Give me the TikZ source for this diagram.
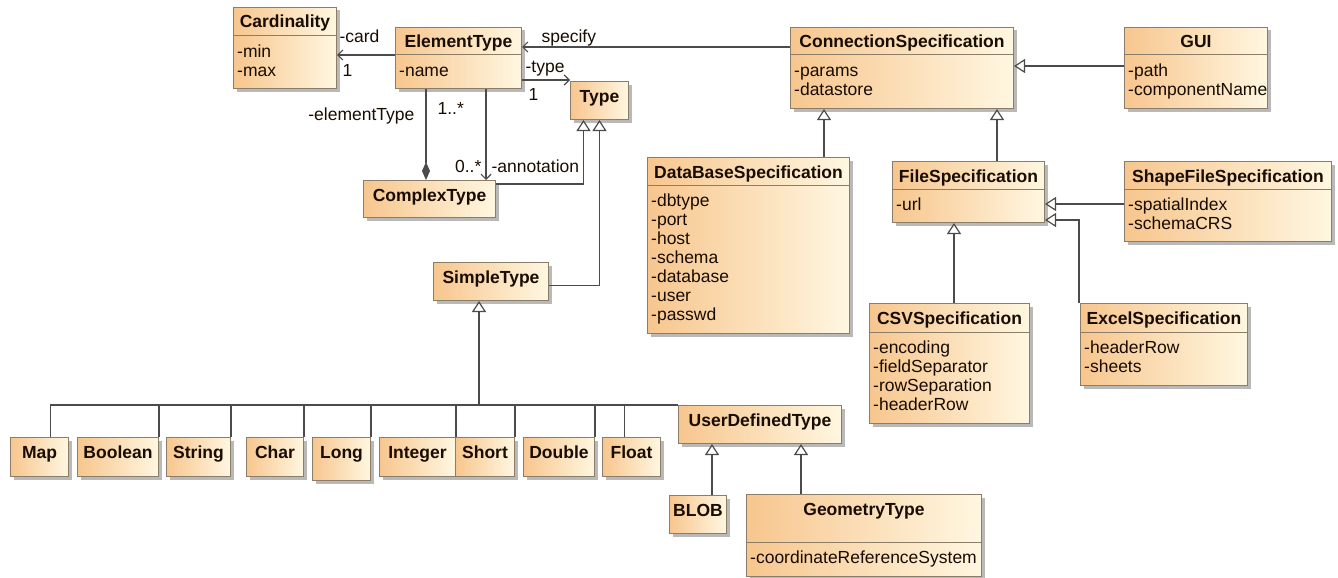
\documentclass[tikz,border=0pt]{standalone}
\usepackage{fontspec}
\setmainfont{Liberation Sans}
\usepackage{tikz}
\usetikzlibrary{arrows.meta,shadows}

\definecolor{boxdark}{RGB}{247,198,142}
\definecolor{boxlight}{RGB}{255,247,225}
\definecolor{boxline}{RGB}{140,125,105}
\definecolor{linkgray}{RGB}{75,75,75}
\definecolor{inktext}{RGB}{25,12,0}

\tikzset{
  cls/.style={draw=boxline, line width=1pt, left color=boxdark, right color=boxlight,
    drop shadow={shadow xshift=3pt, shadow yshift=-3pt, fill=black!55},
    anchor=north west, inner sep=0pt},
  ttl/.style={font=\fontsize{17.5}{19}\selectfont\bfseries, text=inktext, inner sep=0pt, anchor=base},
  attr/.style={font=\fontsize{17.5}{19}\selectfont, text=inktext, align=left, inner sep=0pt, anchor=north west},
  lbl/.style={font=\fontsize{17.5}{19}\selectfont, text=inktext, inner sep=0pt},
  divline/.style={draw=boxline, line width=1pt},
  link/.style={draw=linkgray, line width=1.2pt},
  gen/.style={link, -{Triangle[open, length=11pt, width=14pt, fill=white]}},
  nav/.style={link, -{Straight Barb[length=5pt, width=10pt]}},
  comp/.style={link, -{Diamond[length=18pt, width=8pt, fill=linkgray]}}
}

\begin{document}
\begin{tikzpicture}[x=1pt, y=-1pt]
\useasboundingbox (0,0) rectangle (1338,578);

% classes
\node[cls, minimum width=103, minimum height=81]  (card)   at (233,7)   {};
\node[cls, minimum width=126, minimum height=61]  (elem)   at (395,27)  {};
\node[cls, minimum width=58,  minimum height=38]  (type)   at (570,81)  {};
\node[cls, minimum width=132, minimum height=37]  (cplx)   at (363,180) {};
\node[cls, minimum width=115, minimum height=38]  (simple) at (433,262) {};
\node[cls, minimum width=223, minimum height=81]  (conn)   at (790,27)  {};
\node[cls, minimum width=143, minimum height=81]  (gui)    at (1124,27) {};
\node[cls, minimum width=202, minimum height=176] (db)     at (647,157) {};
\node[cls, minimum width=152, minimum height=61]  (file)   at (892,161) {};
\node[cls, minimum width=207, minimum height=80]  (shape)  at (1124,161) {};
\node[cls, minimum width=160, minimum height=120] (csv)    at (869,303) {};
\node[cls, minimum width=167, minimum height=82]  (excel)  at (1080,303) {};
\node[cls, minimum width=163, minimum height=38]  (udt)    at (678,405) {};
\node[cls, minimum width=57,  minimum height=38]  (blob)   at (669,495) {};
\node[cls, minimum width=235, minimum height=82]  (geom)   at (746,494) {};

\foreach \n/\t in {card/Cardinality, elem/ElementType, type/Type, cplx/ComplexType,
    simple/SimpleType, conn/ConnectionSpecification, gui/GUI, db/DataBaseSpecification,
    file/FileSpecification, shape/ShapeFileSpecification, csv/CSVSpecification,
    excel/ExcelSpecification, udt/UserDefinedType, blob/BLOB, geom/GeometryType}
  \node[ttl] (\n-t) at ([yshift=-21]\n.north) {\t};

% attribute compartments
\foreach \n/\d/\a in {card/29/{-min\\-max}, elem/28/{-name}, conn/28/{-params\\-datastore},
    gui/28/{-path\\-componentName},
    db/28/{-dbtype\\-port\\-host\\-schema\\-database\\-user\\-passwd},
    file/28/{-url}, shape/28/{-spatialIndex\\-schemaCRS},
    csv/29/{-encoding\\-fieldSeparator\\-rowSeparation\\-headerRow},
    excel/29/{-headerRow\\-sheets}, geom/48/{-coordinateReferenceSystem}}{
  \draw[divline] ([yshift=-\d]\n.north west) -- ([yshift=-\d]\n.north east);
  \node[attr] (\n-a) at ([xshift=4, yshift=-\d-8]\n.north west) {\strut\a};
}

% primitive types
\foreach \n/\t/\x/\w/\h in {map/Map/10/58/39, bool/Boolean/77/81/39, str/String/166/64/39,
    chr/Char/246/57/39, lng/Long/312/58/43, int/Integer/379/76/39, shrt/Short/455/59/39,
    dbl/Double/523/71/39, flt/Float/602/58/39}{
  \node[cls, minimum width=\w, minimum height=\h] (\n) at (\x,437) {};
  \node[ttl] (\n-t) at ([yshift=-21]\n.north) {\t};
}

% generalization tree of SimpleType
\draw[link] ([xshift=11]map.north) |- (udt.north west);
\foreach \n in {bool,str,chr,lng,int,shrt,dbl}
  \draw[link] (\n.north east) -- (\n.north east |- udt.north);
\draw[link] ([xshift=-7]flt.north) -- ([xshift=-7]flt.north |- udt.north);
\coordinate (stem) at ([xshift=-12]simple.south);
\draw[gen] (stem |- udt.north) -- (stem);

% associations
\draw[nav] ([yshift=-28]elem.north west) -- ([yshift=-28]elem.north west -| card.east)
  node[lbl, pos=1, anchor=base west, xshift=2, yshift=12] (card-r) {-card}
  node[lbl, pos=1, anchor=base west, xshift=5, yshift=-21] (card-m) {1};
\draw[nav] ([yshift=-20]conn.north west) -- ([yshift=-20]conn.north west -| elem.east)
  node[lbl, pos=1, anchor=base west, xshift=19, yshift=4] (spec-l) {specify};
\draw[nav] ([yshift=-53]elem.north east) -- ([yshift=-53]elem.north east -| type.west)
  node[lbl, pos=0, anchor=base west, xshift=3, yshift=8] (type-r) {-type}
  node[lbl, pos=0, anchor=base west, xshift=6, yshift=-20] (type-m) {1};
\draw[comp] ([xshift=31]elem.south west) -- ([xshift=31]elem.south west |- cplx.north)
  node[lbl, pos=0, anchor=base east, xshift=-11, yshift=-31] (comp-r) {-elementType}
  node[lbl, pos=0, anchor=base west, xshift=11, yshift=-25] (comp-m) {1..*};
\draw[nav] ([xshift=91]elem.south west) -- ([xshift=91]elem.south west |- cplx.north)
  node[lbl, pos=1, anchor=base east, xshift=-4, yshift=8] (ann-m) {0..*}
  node[lbl, pos=1, anchor=base west, xshift=5, yshift=8] (ann-r) {-annotation};

% generalizations
\draw[gen] ([yshift=-4]cplx.north east) -| ([xshift=-16]type.south);
\draw[gen] ([yshift=-4]simple.east) -| (type.south);
\draw[gen] ([xshift=-26]db.north east) -- ([xshift=-26]db.north east |- conn.south);
\draw[gen] ([xshift=-48]file.north east) -- ([xshift=-48]file.north east |- conn.south);
\draw[gen] ([yshift=-39]gui.north west) -- ([yshift=-39]gui.north west -| conn.east);
\draw[gen] ([yshift=-43]shape.north west) -- ([yshift=-43]shape.north west -| file.east);
\draw[gen] ([xshift=85]csv.north west) -- ([xshift=85]csv.north west |- file.south);
\draw[gen] ([xshift=-1]excel.north west) |- ([yshift=3]file.south east);
\draw[gen] ([xshift=14]blob.north) -- ([xshift=14]blob.north |- udt.south);
\draw[gen] ([xshift=55]geom.north west) -- ([xshift=55]geom.north west |- udt.south);
\end{tikzpicture}
\end{document}
